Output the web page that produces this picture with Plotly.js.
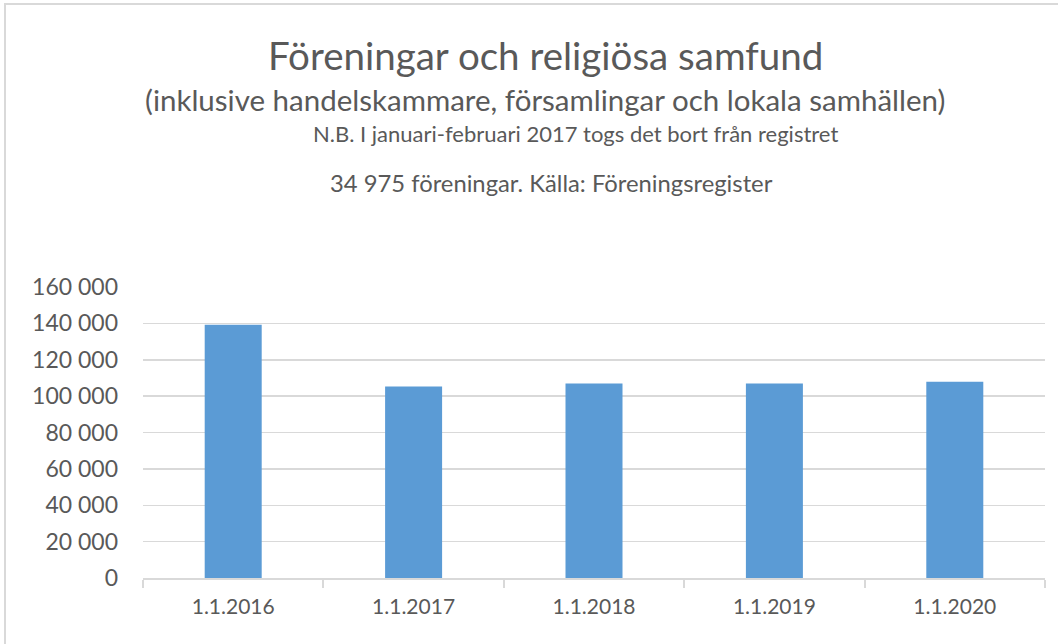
<!DOCTYPE html>
<html>
<head>
<meta charset="utf-8">
<script src="https://cdn.plot.ly/plotly-3.0.1.min.js"></script>
<style>
  body { margin: 0; padding: 0; background: #fff; overflow: hidden; }
  #chart { position: absolute; left: 0; top: 0; width: 1058px; height: 644px; }
  #frame { position: absolute; left: 4px; top: 3px; width: 1100px; height: 700px; border: 2px solid #d9d9d9; pointer-events: none; }
</style>
</head>
<body>
<div id="chart"></div>
<div id="frame"></div>
<script>
const categories = ["1.1.2016", "1.1.2017", "1.1.2018", "1.1.2019", "1.1.2020"];
const values = [139200, 105300, 107000, 107000, 107900];
const yTickVals = [0, 20000, 40000, 60000, 80000, 100000, 120000, 140000, 160000];
const yTickText = ["0", "20 000", "40 000", "60 000", "80 000", "100 000", "120 000", "140 000", "160 000"];
const titleMain = "Föreningar och religiösa samfund";
const titleSub = "(inklusive handelskammare, församlingar och lokala samhällen)";
const noteLine1 = "N.B. I januari-februari 2017 togs det bort från registret";
const noteLine2 = "34 975 föreningar. Källa: Föreningsregister";

const FONT = "Lato, 'Open Sans', sans-serif";
const GREY = "#595959";
const L = 143, R = 1045, T = 287, B = 578;
const px = p => (p - L) / (R - L);
const py = p => (B - p) / (B - T);

const trace = {
  type: "bar",
  x: categories,
  y: values,
  marker: { color: "#5b9bd5" },
  hoverinfo: "x+y"
};

const layout = {
  width: 1058, height: 644,
  margin: { l: L, r: 1058 - R, t: T, b: 644 - B, pad: 0 },
  paper_bgcolor: "#fff", plot_bgcolor: "#fff",
  bargap: 0.684,
  showlegend: false,
  font: { family: FONT, color: GREY, size: 21 },
  xaxis: {
    type: "category",
    showline: true, linecolor: "#d9d9d9", linewidth: 2,
    ticks: "outside", tickson: "boundaries", ticklen: 8, tickwidth: 2, tickcolor: "#d9d9d9",
    ticklabelstandoff: 9,
    showgrid: false, zeroline: false,
    tickfont: { family: FONT, size: 21, color: GREY },
    fixedrange: true
  },
  yaxis: {
    range: [0, 160000],
    tickvals: yTickVals, ticktext: yTickText,
    showline: false, zeroline: false,
    showgrid: true, gridcolor: "#d9d9d9", gridwidth: 1.5,
    ticks: "", ticklabelstandoff: 24,
    tickfont: { family: FONT, size: 23, color: GREY },
    fixedrange: true
  },
  annotations: [
    { text: titleMain, xref: "paper", yref: "paper", x: px(545), y: py(55), xanchor: "center", yanchor: "middle", showarrow: false, font: { family: FONT, size: 38.5, color: GREY } },
    { text: titleSub, xref: "paper", yref: "paper", x: px(545), y: py(99), xanchor: "center", yanchor: "middle", showarrow: false, font: { family: FONT, size: 29.5, color: GREY } },
    { text: noteLine1, xref: "paper", yref: "paper", x: px(575), y: py(133), xanchor: "center", yanchor: "middle", showarrow: false, font: { family: FONT, size: 22, color: GREY } },
    { text: noteLine2, xref: "paper", yref: "paper", x: px(551), y: py(183), xanchor: "center", yanchor: "middle", showarrow: false, font: { family: FONT, size: 23.8, color: GREY } }
  ]
};

Plotly.newPlot("chart", [trace], layout, { displayModeBar: false, staticPlot: true });
</script>
</body>
</html>
